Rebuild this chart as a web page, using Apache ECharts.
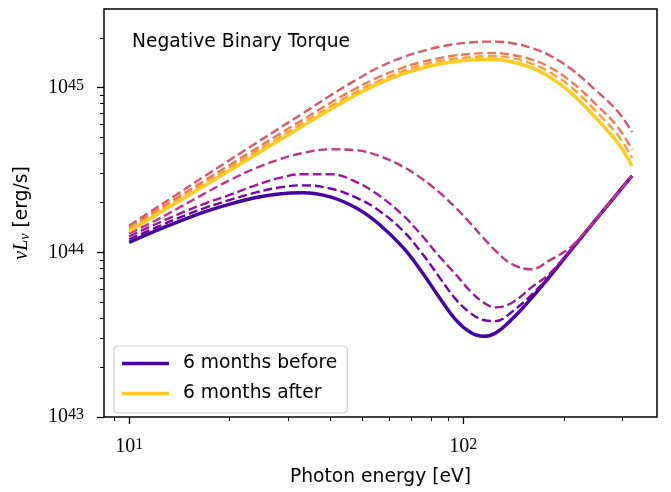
<!DOCTYPE html>
<html>
<head>
<meta charset="utf-8">
<title>Negative Binary Torque</title>
<script src="https://cdn.jsdelivr.net/npm/echarts@6/dist/echarts.min.js"></script>
<style>
  html, body { margin: 0; padding: 0; background: #fff; }
  #chart { width: 671px; height: 492px; }
</style>
</head>
<body>
<div id="chart"></div>
<script>
// photon energy [eV]
var energy = [10, 12, 14, 17, 20, 24, 28, 33, 40, 48, 56, 66, 75, 85, 95, 105, 115, 125, 140, 160, 180, 210, 250, 290, 320];

// nu L_nu [erg/s]
var before6m = [1.15e44, 1.35e44, 1.53e44, 1.77e44, 1.96e44, 2.15e44, 2.26e44, 2.30e44, 2.17e44, 1.85e44, 1.48e44, 1.07e44, 7.65e43, 5.28e43, 3.89e43, 3.27e43, 3.09e43, 3.24e43, 3.93e43, 5.27e43, 6.99e43, 1.03e44, 1.59e44, 2.29e44, 2.91e44];
var step1 = [1.20e44, 1.41e44, 1.61e44, 1.87e44, 2.08e44, 2.31e44, 2.47e44, 2.55e44, 2.44e44, 2.14e44, 1.79e44, 1.35e44, 9.94e43, 7.02e43, 5.18e43, 4.28e43, 3.88e43, 3.82e43, 4.36e43, 5.52e43, 7.10e43, 1.03e44, 1.59e44, 2.29e44, 2.91e44];
var step2 = [1.25e44, 1.48e44, 1.70e44, 1.99e44, 2.23e44, 2.56e44, 2.82e44, 2.98e44, 2.98e44, 2.66e44, 2.21e44, 1.68e44, 1.27e44, 9.40e43, 7.33e43, 5.81e43, 4.96e43, 4.63e43, 4.94e43, 6.12e43, 7.32e43, 1.04e44, 1.59e44, 2.29e44, 2.91e44];
var step3 = [1.30e44, 1.56e44, 1.85e44, 2.30e44, 2.74e44, 3.25e44, 3.65e44, 4.00e44, 4.22e44, 4.16e44, 3.85e44, 3.31e44, 2.81e44, 2.30e44, 1.86e44, 1.50e44, 1.22e44, 1.02e44, 8.48e43, 7.88e43, 8.87e43, 1.08e44, 1.60e44, 2.29e44, 2.91e44];
var step4 = [1.45e44, 1.85e44, 2.27e44, 2.94e44, 3.63e44, 4.61e44, 5.62e44, 6.95e44, 8.95e44, 1.12e45, 1.33e45, 1.53e45, 1.66e45, 1.77e45, 1.84e45, 1.88e45, 1.90e45, 1.90e45, 1.86e45, 1.74e45, 1.58e45, 1.30e45, 9.57e44, 7.16e44, 5.37e44];
var step5 = [1.42e44, 1.78e44, 2.16e44, 2.76e44, 3.39e44, 4.26e44, 5.18e44, 6.35e44, 8.07e44, 9.95e44, 1.16e45, 1.32e45, 1.43e45, 1.51e45, 1.57e45, 1.60e45, 1.62e45, 1.62e45, 1.58e45, 1.48e45, 1.34e45, 1.09e45, 7.89e44, 5.75e44, 4.21e44];
var step6 = [1.38e44, 1.73e44, 2.09e44, 2.66e44, 3.26e44, 4.09e44, 4.94e44, 6.07e44, 7.67e44, 9.46e44, 1.10e45, 1.26e45, 1.37e45, 1.45e45, 1.50e45, 1.53e45, 1.55e45, 1.55e45, 1.51e45, 1.40e45, 1.25e45, 1.01e45, 7.15e44, 5.14e44, 3.74e44];
var after6m = [1.34e44, 1.68e44, 2.03e44, 2.57e44, 3.14e44, 3.93e44, 4.75e44, 5.82e44, 7.36e44, 9.08e44, 1.06e45, 1.21e45, 1.31e45, 1.39e45, 1.44e45, 1.47e45, 1.48e45, 1.48e45, 1.43e45, 1.32e45, 1.17e45, 9.30e44, 6.50e44, 4.62e44, 3.34e44];

// ticks
var xMajor = [10, 100];
var xMinor = [9, 20, 30, 40, 50, 60, 70, 80, 90, 200, 300];
var yMajor = [1e43, 1e44, 1e45];
var yMinor = [2e43, 3e43, 4e43, 5e43, 6e43, 7e43, 8e43, 9e43, 2e44, 3e44, 4e44, 5e44, 6e44, 7e44, 8e44, 9e44, 2e45];

var sans = '"DejaVu Sans", sans-serif';
var serif = '"Liberation Serif", "DejaVu Serif", serif';
var sansSize = 18.7;

function pairs(vals) {
  return energy.map(function (e, i) { return [e, vals[i]]; });
}

function powLabel(v) {
  return '{b|10}{sup|' + Math.round(Math.log10(v)) + '}';
}
var powRich = {
  b: { fontFamily: serif, fontSize: 20, color: '#000' },
  sup: { fontFamily: serif, fontSize: 16, color: '#000', verticalAlign: 'top' }
};

var lines = [
  { name: '6 months before', data: before6m, color: '#46039f', dashed: false },
  { name: 's1', data: step1, color: '#7201a8', dashed: true },
  { name: 's2', data: step2, color: '#9c179e', dashed: true },
  { name: 's3', data: step3, color: '#bd3786', dashed: true },
  { name: 's4', data: step4, color: '#d8576b', dashed: true },
  { name: 's5', data: step5, color: '#ed7953', dashed: true },
  { name: 's6', data: step6, color: '#fb9f3a', dashed: true },
  { name: '6 months after', data: after6m, color: '#fdca26', dashed: false }
];

function xAxisOf(major) {
  return {
    type: 'log', min: 8.41, max: 380, position: 'bottom',
    axisLine: { show: false }, splitLine: { show: false },
    axisTick: { show: true, length: major ? 7 : 4, customValues: major ? xMajor : xMinor,
      lineStyle: { color: '#000', width: major ? 1.3 : 1 } },
    axisLabel: major ? { customValues: xMajor, formatter: powLabel, rich: powRich, margin: 20 } : { show: false }
  };
}
function yAxisOf(major) {
  return {
    type: 'log', min: 1e43, max: 3e45, position: 'left',
    axisLine: { show: false }, splitLine: { show: false },
    axisTick: { show: true, length: major ? 7 : 4, customValues: major ? yMajor : yMinor,
      lineStyle: { color: '#000', width: major ? 1.3 : 1 } },
    axisLabel: major ? { customValues: yMajor, formatter: powLabel, rich: powRich, margin: 20 } : { show: false }
  };
}

var xMain = xAxisOf(true);
xMain.name = 'Photon energy [eV]';
xMain.nameLocation = 'middle';
xMain.nameGap = 51;
xMain.nameTextStyle = { fontFamily: sans, fontSize: sansSize, color: '#000' };

var yMain = yAxisOf(true);
yMain.name = '{i|νL}{s|ν}{n| [erg/s]}';
yMain.nameLocation = 'middle';
yMain.nameGap = 72;
yMain.nameTextStyle = {
  color: '#000',
  rich: {
    i: { fontFamily: serif, fontStyle: 'italic', fontSize: 20, color: '#000' },
    s: { fontFamily: serif, fontStyle: 'italic', fontSize: 14, color: '#000', verticalAlign: 'bottom' },
    n: { fontFamily: sans, fontSize: sansSize, color: '#000' }
  }
};

var chart = echarts.init(document.getElementById('chart'));

chart.setOption({
  animation: false,
  backgroundColor: '#fff',
  title: {
    text: 'Negative Binary Torque', left: 132, top: 33, padding: 0,
    textStyle: { fontFamily: sans, fontSize: sansSize, fontWeight: 'normal', color: '#000' }
  },
  legend: {
    data: [{ name: '6 months before', icon: 'rect' }, { name: '6 months after', icon: 'rect' }],
    orient: 'vertical', left: 114, top: 346,
    itemWidth: 47, itemHeight: 3.5, itemGap: 11,
    padding: [8, 10, 10, 8],
    backgroundColor: '#fff', borderColor: '#cccccc', borderWidth: 1.2, borderRadius: 4,
    selectedMode: false,
    textStyle: { fontFamily: sans, fontSize: sansSize, color: '#000', padding: [0, 0, 0, 9] }
  },
  grid: {
    left: 104, right: 14, top: 9, bottom: 70,
    show: true, borderColor: '#000', borderWidth: 1.5
  },
  xAxis: [xMain, xAxisOf(false)],
  yAxis: [yMain, yAxisOf(false)],
  series: lines.map(function (l) {
    return {
      name: l.name, type: 'line', xAxisIndex: 0, yAxisIndex: 0,
      data: pairs(l.data), showSymbol: false, smooth: 0.4,
      color: l.color,
      lineStyle: l.dashed ? { color: l.color, width: 2.4, type: [9, 4] } : { color: l.color, width: 3.5 }
    };
  })
});
</script>
</body>
</html>
